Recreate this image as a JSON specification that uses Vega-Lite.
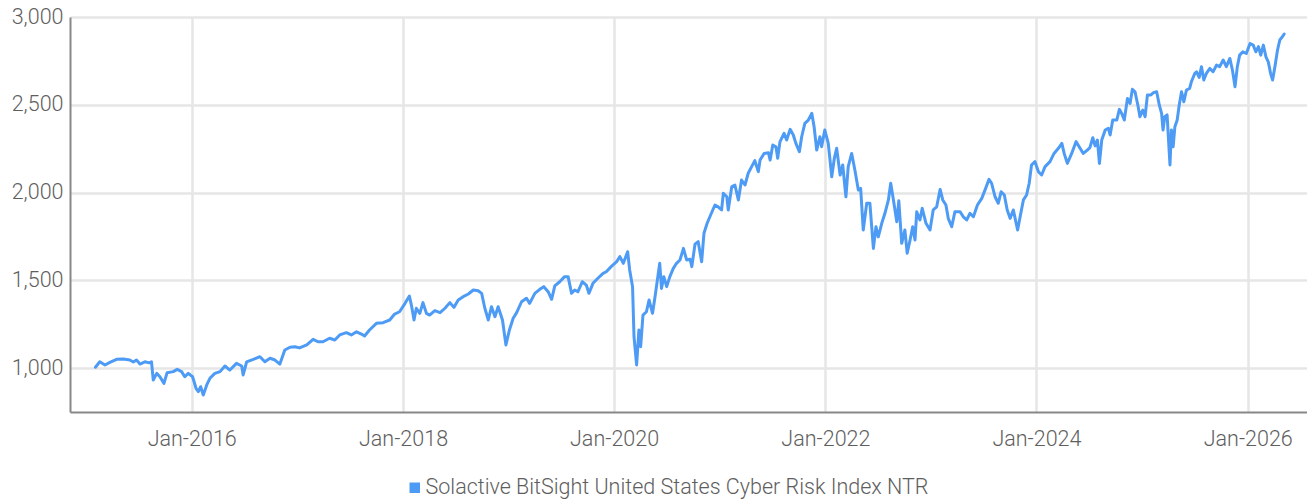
{
  "$schema": "https://vega.github.io/schema/vega-lite/v6.json",
  "width": 1237,
  "height": 395,
  "autosize": {"type": "none"},
  "padding": {"left": 70, "top": 17, "right": 0, "bottom": 88},
  "background": "white",
  "config": {
    "view": {"stroke": null},
    "font": "Roboto, sans-serif"
  },
  "data": {
    "values": [
      {"date": "2015-02-02", "value": 1005}, {"date": "2015-02-17", "value": 1036}, {"date": "2015-03-07", "value": 1018}, {"date": "2015-03-24", "value": 1033},
      {"date": "2015-04-16", "value": 1050}, {"date": "2015-05-09", "value": 1052}, {"date": "2015-06-01", "value": 1046}, {"date": "2015-06-13", "value": 1035},
      {"date": "2015-06-24", "value": 1046}, {"date": "2015-07-06", "value": 1023}, {"date": "2015-07-23", "value": 1036}, {"date": "2015-08-07", "value": 1030},
      {"date": "2015-08-15", "value": 1036}, {"date": "2015-08-21", "value": 932}, {"date": "2015-09-02", "value": 970}, {"date": "2015-09-13", "value": 951},
      {"date": "2015-09-27", "value": 913}, {"date": "2015-10-08", "value": 974}, {"date": "2015-10-29", "value": 980}, {"date": "2015-11-12", "value": 993},
      {"date": "2015-11-27", "value": 980}, {"date": "2015-12-08", "value": 951}, {"date": "2015-12-20", "value": 970},
      {"date": "2016-01-04", "value": 951}, {"date": "2016-01-16", "value": 885}, {"date": "2016-01-24", "value": 866}, {"date": "2016-02-01", "value": 894},
      {"date": "2016-02-10", "value": 847}, {"date": "2016-02-22", "value": 904}, {"date": "2016-03-04", "value": 942}, {"date": "2016-03-21", "value": 970},
      {"date": "2016-04-08", "value": 980}, {"date": "2016-04-25", "value": 1012}, {"date": "2016-05-12", "value": 989}, {"date": "2016-06-04", "value": 1027},
      {"date": "2016-06-22", "value": 1012}, {"date": "2016-06-27", "value": 961}, {"date": "2016-07-09", "value": 1036}, {"date": "2016-08-01", "value": 1050},
      {"date": "2016-08-24", "value": 1065}, {"date": "2016-09-10", "value": 1036}, {"date": "2016-09-28", "value": 1056}, {"date": "2016-10-15", "value": 1046},
      {"date": "2016-11-01", "value": 1023}, {"date": "2016-11-18", "value": 1103}, {"date": "2016-12-06", "value": 1119}, {"date": "2016-12-23", "value": 1122},
      {"date": "2017-01-08", "value": 1115}, {"date": "2017-02-02", "value": 1132}, {"date": "2017-02-24", "value": 1164}, {"date": "2017-03-13", "value": 1150},
      {"date": "2017-03-30", "value": 1150}, {"date": "2017-04-22", "value": 1170}, {"date": "2017-05-10", "value": 1160}, {"date": "2017-05-27", "value": 1189},
      {"date": "2017-06-19", "value": 1202}, {"date": "2017-07-06", "value": 1189}, {"date": "2017-07-24", "value": 1207}, {"date": "2017-08-10", "value": 1194},
      {"date": "2017-08-21", "value": 1183}, {"date": "2017-09-07", "value": 1217}, {"date": "2017-10-01", "value": 1255}, {"date": "2017-10-24", "value": 1259},
      {"date": "2017-11-16", "value": 1274}, {"date": "2017-12-03", "value": 1308}, {"date": "2017-12-20", "value": 1321},
      {"date": "2018-01-08", "value": 1369}, {"date": "2018-01-23", "value": 1411}, {"date": "2018-01-31", "value": 1350}, {"date": "2018-02-08", "value": 1274},
      {"date": "2018-02-16", "value": 1341}, {"date": "2018-02-28", "value": 1312}, {"date": "2018-03-11", "value": 1373}, {"date": "2018-03-23", "value": 1312},
      {"date": "2018-04-03", "value": 1302}, {"date": "2018-04-21", "value": 1327}, {"date": "2018-05-09", "value": 1316}, {"date": "2018-05-26", "value": 1341},
      {"date": "2018-06-12", "value": 1373}, {"date": "2018-06-26", "value": 1346}, {"date": "2018-07-11", "value": 1388}, {"date": "2018-07-28", "value": 1407},
      {"date": "2018-08-15", "value": 1422}, {"date": "2018-09-01", "value": 1445}, {"date": "2018-09-18", "value": 1441}, {"date": "2018-09-30", "value": 1426},
      {"date": "2018-10-11", "value": 1341}, {"date": "2018-10-23", "value": 1274}, {"date": "2018-11-03", "value": 1350}, {"date": "2018-11-15", "value": 1293},
      {"date": "2018-11-26", "value": 1350}, {"date": "2018-12-11", "value": 1274}, {"date": "2018-12-23", "value": 1132},
      {"date": "2019-01-04", "value": 1217}, {"date": "2019-01-17", "value": 1284}, {"date": "2019-01-29", "value": 1316}, {"date": "2019-02-15", "value": 1378},
      {"date": "2019-03-04", "value": 1398}, {"date": "2019-03-15", "value": 1369}, {"date": "2019-04-02", "value": 1426}, {"date": "2019-04-19", "value": 1449},
      {"date": "2019-05-03", "value": 1464}, {"date": "2019-05-18", "value": 1435}, {"date": "2019-05-30", "value": 1392}, {"date": "2019-06-10", "value": 1468},
      {"date": "2019-06-27", "value": 1492}, {"date": "2019-07-14", "value": 1521}, {"date": "2019-07-26", "value": 1521}, {"date": "2019-08-07", "value": 1426},
      {"date": "2019-08-18", "value": 1445}, {"date": "2019-08-29", "value": 1435}, {"date": "2019-09-13", "value": 1492}, {"date": "2019-09-27", "value": 1473},
      {"date": "2019-10-06", "value": 1426}, {"date": "2019-10-20", "value": 1483}, {"date": "2019-11-06", "value": 1512}, {"date": "2019-11-24", "value": 1540},
      {"date": "2019-12-05", "value": 1549}, {"date": "2019-12-22", "value": 1578},
      {"date": "2020-01-10", "value": 1606}, {"date": "2020-01-21", "value": 1635}, {"date": "2020-02-02", "value": 1597}, {"date": "2020-02-17", "value": 1663},
      {"date": "2020-02-24", "value": 1559}, {"date": "2020-03-05", "value": 1464}, {"date": "2020-03-10", "value": 1179}, {"date": "2020-03-19", "value": 1018},
      {"date": "2020-03-27", "value": 1217}, {"date": "2020-04-02", "value": 1122}, {"date": "2020-04-10", "value": 1302}, {"date": "2020-04-22", "value": 1321},
      {"date": "2020-05-01", "value": 1388}, {"date": "2020-05-13", "value": 1312}, {"date": "2020-05-21", "value": 1398}, {"date": "2020-05-29", "value": 1492},
      {"date": "2020-06-07", "value": 1597}, {"date": "2020-06-13", "value": 1454}, {"date": "2020-06-21", "value": 1521}, {"date": "2020-07-01", "value": 1464},
      {"date": "2020-07-12", "value": 1521}, {"date": "2020-07-24", "value": 1568}, {"date": "2020-08-04", "value": 1597}, {"date": "2020-08-16", "value": 1616},
      {"date": "2020-08-28", "value": 1682}, {"date": "2020-09-08", "value": 1616}, {"date": "2020-09-20", "value": 1620}, {"date": "2020-09-26", "value": 1578},
      {"date": "2020-10-07", "value": 1706}, {"date": "2020-10-18", "value": 1720}, {"date": "2020-10-30", "value": 1606}, {"date": "2020-11-07", "value": 1768},
      {"date": "2020-11-18", "value": 1825}, {"date": "2020-11-30", "value": 1872}, {"date": "2020-12-15", "value": 1929}, {"date": "2020-12-26", "value": 1919},
      {"date": "2021-01-07", "value": 1901}, {"date": "2021-01-13", "value": 1996}, {"date": "2021-01-25", "value": 1976}, {"date": "2021-01-30", "value": 1901},
      {"date": "2021-02-11", "value": 2033}, {"date": "2021-02-22", "value": 2043}, {"date": "2021-03-06", "value": 1958}, {"date": "2021-03-17", "value": 2071},
      {"date": "2021-03-29", "value": 2043}, {"date": "2021-04-09", "value": 2110}, {"date": "2021-04-21", "value": 2148}, {"date": "2021-05-02", "value": 2182},
      {"date": "2021-05-14", "value": 2119}, {"date": "2021-05-20", "value": 2185}, {"date": "2021-06-03", "value": 2223}, {"date": "2021-06-18", "value": 2227},
      {"date": "2021-06-24", "value": 2185}, {"date": "2021-07-03", "value": 2271}, {"date": "2021-07-14", "value": 2261}, {"date": "2021-07-20", "value": 2195},
      {"date": "2021-07-28", "value": 2290}, {"date": "2021-08-11", "value": 2337}, {"date": "2021-08-20", "value": 2299}, {"date": "2021-09-01", "value": 2360},
      {"date": "2021-09-12", "value": 2328}, {"date": "2021-09-21", "value": 2280}, {"date": "2021-10-03", "value": 2233}, {"date": "2021-10-11", "value": 2318},
      {"date": "2021-10-22", "value": 2394}, {"date": "2021-11-03", "value": 2413}, {"date": "2021-11-15", "value": 2451}, {"date": "2021-11-23", "value": 2375},
      {"date": "2021-12-02", "value": 2242}, {"date": "2021-12-13", "value": 2318}, {"date": "2021-12-19", "value": 2261}, {"date": "2021-12-30", "value": 2356},
      {"date": "2022-01-11", "value": 2280}, {"date": "2022-01-23", "value": 2090}, {"date": "2022-02-01", "value": 2195}, {"date": "2022-02-09", "value": 2252},
      {"date": "2022-02-21", "value": 2100}, {"date": "2022-03-02", "value": 2157}, {"date": "2022-03-13", "value": 1976}, {"date": "2022-03-21", "value": 2148},
      {"date": "2022-04-02", "value": 2223}, {"date": "2022-04-13", "value": 2128}, {"date": "2022-04-25", "value": 2014}, {"date": "2022-05-03", "value": 2024},
      {"date": "2022-05-12", "value": 1787}, {"date": "2022-05-24", "value": 1939}, {"date": "2022-06-04", "value": 1939}, {"date": "2022-06-16", "value": 1682},
      {"date": "2022-06-25", "value": 1805}, {"date": "2022-07-03", "value": 1748}, {"date": "2022-07-15", "value": 1825}, {"date": "2022-07-26", "value": 1882},
      {"date": "2022-08-07", "value": 1958}, {"date": "2022-08-15", "value": 2053}, {"date": "2022-08-24", "value": 1962}, {"date": "2022-09-05", "value": 1834},
      {"date": "2022-09-12", "value": 1953}, {"date": "2022-09-22", "value": 1711}, {"date": "2022-10-03", "value": 1787}, {"date": "2022-10-11", "value": 1654},
      {"date": "2022-10-21", "value": 1730}, {"date": "2022-10-30", "value": 1805}, {"date": "2022-11-07", "value": 1730}, {"date": "2022-11-13", "value": 1891},
      {"date": "2022-11-24", "value": 1844}, {"date": "2022-12-02", "value": 1910}, {"date": "2022-12-15", "value": 1825}, {"date": "2022-12-29", "value": 1787},
      {"date": "2023-01-09", "value": 1901}, {"date": "2023-01-21", "value": 1919}, {"date": "2023-02-02", "value": 2018}, {"date": "2023-02-11", "value": 1958},
      {"date": "2023-02-22", "value": 1929}, {"date": "2023-03-02", "value": 1853}, {"date": "2023-03-14", "value": 1805}, {"date": "2023-03-25", "value": 1891},
      {"date": "2023-04-12", "value": 1891}, {"date": "2023-04-23", "value": 1862}, {"date": "2023-05-05", "value": 1844}, {"date": "2023-05-16", "value": 1882},
      {"date": "2023-05-28", "value": 1862}, {"date": "2023-06-11", "value": 1929}, {"date": "2023-06-26", "value": 1967}, {"date": "2023-07-07", "value": 2014},
      {"date": "2023-07-21", "value": 2075}, {"date": "2023-07-30", "value": 2053}, {"date": "2023-08-11", "value": 1976}, {"date": "2023-08-22", "value": 1939},
      {"date": "2023-09-01", "value": 2005}, {"date": "2023-09-12", "value": 1986}, {"date": "2023-09-22", "value": 1901}, {"date": "2023-10-02", "value": 1853},
      {"date": "2023-10-13", "value": 1901}, {"date": "2023-10-28", "value": 1787}, {"date": "2023-11-08", "value": 1882}, {"date": "2023-11-17", "value": 1958},
      {"date": "2023-11-28", "value": 1986}, {"date": "2023-12-07", "value": 2053}, {"date": "2023-12-15", "value": 2157}, {"date": "2023-12-27", "value": 2176},
      {"date": "2024-01-08", "value": 2119}, {"date": "2024-01-19", "value": 2100}, {"date": "2024-01-31", "value": 2148}, {"date": "2024-02-17", "value": 2176},
      {"date": "2024-03-02", "value": 2223}, {"date": "2024-03-17", "value": 2252}, {"date": "2024-03-29", "value": 2280}, {"date": "2024-04-06", "value": 2223},
      {"date": "2024-04-17", "value": 2166}, {"date": "2024-05-02", "value": 2223}, {"date": "2024-05-17", "value": 2290}, {"date": "2024-05-31", "value": 2252},
      {"date": "2024-06-11", "value": 2223}, {"date": "2024-06-25", "value": 2242}, {"date": "2024-07-04", "value": 2256}, {"date": "2024-07-14", "value": 2312},
      {"date": "2024-07-22", "value": 2266}, {"date": "2024-07-30", "value": 2299}, {"date": "2024-08-06", "value": 2166}, {"date": "2024-08-14", "value": 2299},
      {"date": "2024-08-26", "value": 2356}, {"date": "2024-09-06", "value": 2366}, {"date": "2024-09-12", "value": 2328}, {"date": "2024-09-21", "value": 2413},
      {"date": "2024-10-05", "value": 2413}, {"date": "2024-10-14", "value": 2474}, {"date": "2024-10-22", "value": 2451}, {"date": "2024-10-31", "value": 2413},
      {"date": "2024-11-11", "value": 2536}, {"date": "2024-11-20", "value": 2508}, {"date": "2024-11-28", "value": 2588}, {"date": "2024-12-07", "value": 2574},
      {"date": "2024-12-18", "value": 2489}, {"date": "2024-12-24", "value": 2432},
      {"date": "2025-01-03", "value": 2470}, {"date": "2025-01-11", "value": 2432}, {"date": "2025-01-19", "value": 2556}, {"date": "2025-01-31", "value": 2556},
      {"date": "2025-02-09", "value": 2569}, {"date": "2025-02-20", "value": 2574}, {"date": "2025-03-01", "value": 2499}, {"date": "2025-03-09", "value": 2451},
      {"date": "2025-03-14", "value": 2356}, {"date": "2025-03-20", "value": 2432}, {"date": "2025-03-28", "value": 2442}, {"date": "2025-04-07", "value": 2157},
      {"date": "2025-04-12", "value": 2356}, {"date": "2025-04-18", "value": 2261}, {"date": "2025-04-24", "value": 2375}, {"date": "2025-05-02", "value": 2413},
      {"date": "2025-05-09", "value": 2499}, {"date": "2025-05-17", "value": 2574}, {"date": "2025-05-25", "value": 2517}, {"date": "2025-06-03", "value": 2584},
      {"date": "2025-06-14", "value": 2593}, {"date": "2025-06-20", "value": 2631}, {"date": "2025-07-02", "value": 2679}, {"date": "2025-07-08", "value": 2688},
      {"date": "2025-07-17", "value": 2656}, {"date": "2025-07-25", "value": 2717}, {"date": "2025-08-02", "value": 2641}, {"date": "2025-08-11", "value": 2679},
      {"date": "2025-08-23", "value": 2707}, {"date": "2025-09-03", "value": 2688}, {"date": "2025-09-15", "value": 2726}, {"date": "2025-09-26", "value": 2717},
      {"date": "2025-10-08", "value": 2755}, {"date": "2025-10-19", "value": 2717}, {"date": "2025-10-31", "value": 2764}, {"date": "2025-11-09", "value": 2698},
      {"date": "2025-11-18", "value": 2603}, {"date": "2025-11-26", "value": 2717}, {"date": "2025-12-04", "value": 2783}, {"date": "2025-12-15", "value": 2802},
      {"date": "2025-12-27", "value": 2792},
      {"date": "2026-01-09", "value": 2849}, {"date": "2026-01-20", "value": 2840}, {"date": "2026-01-29", "value": 2802}, {"date": "2026-02-07", "value": 2831},
      {"date": "2026-02-15", "value": 2783}, {"date": "2026-02-24", "value": 2840}, {"date": "2026-03-05", "value": 2773}, {"date": "2026-03-13", "value": 2745},
      {"date": "2026-03-21", "value": 2679}, {"date": "2026-03-28", "value": 2641}, {"date": "2026-04-05", "value": 2717}, {"date": "2026-04-14", "value": 2812},
      {"date": "2026-04-22", "value": 2869}, {"date": "2026-05-01", "value": 2888}, {"date": "2026-05-07", "value": 2903}
    ]
  },
  "mark": {"type": "line", "strokeWidth": 3, "strokeJoin": "round", "strokeCap": "round"},
  "encoding": {
    "x": {
      "field": "date",
      "type": "temporal",
      "title": null,
      "scale": {"domain": ["2014-11-06", "2026-07-25"]},
      "axis": {
        "values": [
          {"year": 2016, "month": 1, "date": 1},
          {"year": 2018, "month": 1, "date": 1},
          {"year": 2020, "month": 1, "date": 1},
          {"year": 2022, "month": 1, "date": 1},
          {"year": 2024, "month": 1, "date": 1},
          {"year": 2026, "month": 1, "date": 1}
        ],
        "format": "%b-%Y",
        "labelFontSize": 21.5,
        "labelFontWeight": 300,
        "labelColor": "#5e5e5e",
        "labelPadding": 16,
        "ticks": false,
        "domainColor": "#888888",
        "domainWidth": 2,
        "grid": true,
        "gridColor": "#e6e6e6",
        "gridWidth": 2.5
      }
    },
    "y": {
      "field": "value",
      "type": "quantitative",
      "title": null,
      "scale": {"domain": [750, 3000], "nice": false, "zero": false},
      "axis": {
        "values": [1000, 1500, 2000, 2500, 3000],
        "format": ",d",
        "labelFontSize": 21.5,
        "labelFontWeight": 300,
        "labelColor": "#5e5e5e",
        "labelPadding": 7,
        "ticks": false,
        "domainColor": "#888888",
        "domainWidth": 2,
        "grid": true,
        "gridColor": "#e6e6e6",
        "gridWidth": 2.5
      }
    },
    "color": {
      "datum": "Solactive BitSight United States Cyber Risk Index NTR",
      "scale": {"range": ["#4d9bf5"]},
      "legend": {
        "title": null,
        "orient": "none",
        "legendX": 334,
        "legendY": 460,
        "symbolType": "square",
        "symbolSize": 110,
        "symbolFillColor": "#4d9bf5",
        "symbolStrokeWidth": 0,
        "labelFontSize": 21.5,
        "labelFontWeight": 300,
        "labelColor": "#5e5e5e",
        "labelOffset": 0,
        "labelLimit": 0
      }
    }
  }
}
